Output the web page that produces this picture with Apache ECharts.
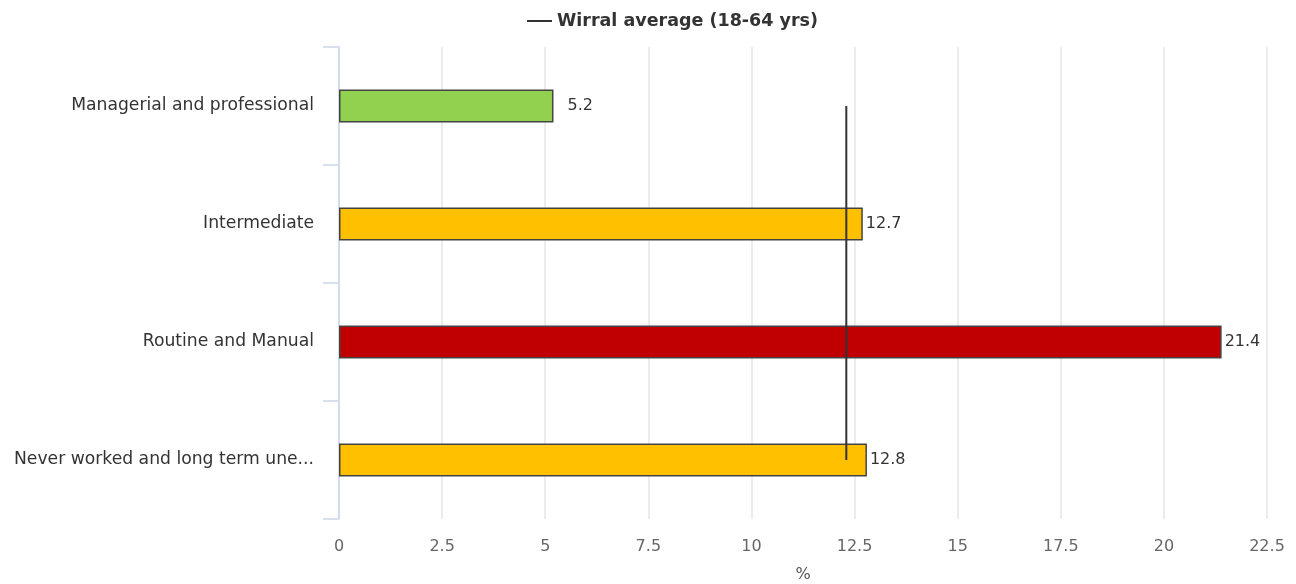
<!DOCTYPE html>
<html>
<head>
<meta charset="utf-8">
<script src="https://cdn.jsdelivr.net/npm/echarts@6/dist/echarts.min.js"></script>
<style>
  html, body { margin: 0; padding: 0; background: #fff; }
  #chart { width: 1296px; height: 584px; }
</style>
</head>
<body>
<div id="chart"></div>
<script>
// Socio-economic groups, percentage values and the borough average
const categories = [
  'Managerial and professional',
  'Intermediate',
  'Routine and Manual',
  'Never worked and long term une...'
];
const values = [5.2, 12.7, 21.4, 12.8];
const barColors = ['#92d050', '#ffc000', '#c00000', '#ffc000'];
const averageName = 'Wirral average (18-64 yrs)';
const averageValues = [12.3, 12.3, 12.3, 12.3];
const xTicks = { min: 0, max: 22.5, interval: 2.5 };

const font = 'DejaVu Sans';
const chart = echarts.init(document.getElementById('chart'));

chart.setOption({
  animation: false,
  legend: {
    data: [averageName],
    top: 7,
    left: 521,
    itemWidth: 25,
    itemHeight: 2,
    itemGap: 8,
    textStyle: { fontFamily: font, fontSize: 17.5, fontWeight: 'bold', color: '#333' }
  },
  grid: {
    left: 339, right: 29, top: 47, bottom: 65,
    containLabel: false,
    outerBoundsMode: 'none'
  },
  xAxis: {
    type: 'value',
    min: xTicks.min,
    max: xTicks.max,
    interval: xTicks.interval,
    name: '%',
    nameLocation: 'middle',
    nameGap: 48,
    nameTextStyle: { fontFamily: font, fontSize: 16, color: '#555' },
    axisLine: { show: false },
    axisTick: { show: false },
    axisLabel: { fontFamily: font, fontSize: 16, color: '#666', margin: 20 },
    splitLine: { show: true, lineStyle: { color: '#e6e6e6', width: 1.5 } }
  },
  yAxis: {
    type: 'category',
    data: categories,
    inverse: true,
    axisLine: { show: true, lineStyle: { color: '#ccd6eb', width: 1.5 } },
    axisTick: { show: true, length: 16, lineStyle: { color: '#ccd6eb', width: 1.5 } },
    axisLabel: { fontFamily: font, fontSize: 17.2, color: '#333', margin: 25 },
    splitLine: { show: false }
  },
  series: [
    {
      type: 'bar',
      barWidth: 33,
      data: values.map((v, i) => ({
        value: v,
        itemStyle: { color: barColors[i], borderColor: '#444', borderWidth: 1.5 },
        label: { distance: i === 0 ? 14 : 3 }
      })),
      label: {
        show: true,
        position: 'right',
        fontFamily: font,
        fontSize: 16,
        color: '#333'
      },
      z: 2
    },
    {
      name: averageName,
      type: 'line',
      data: averageValues,
      symbol: 'none',
      lineStyle: { color: '#333', width: 2 },
      itemStyle: { color: '#333' },
      z: 3
    }
  ]
});
</script>
</body>
</html>
